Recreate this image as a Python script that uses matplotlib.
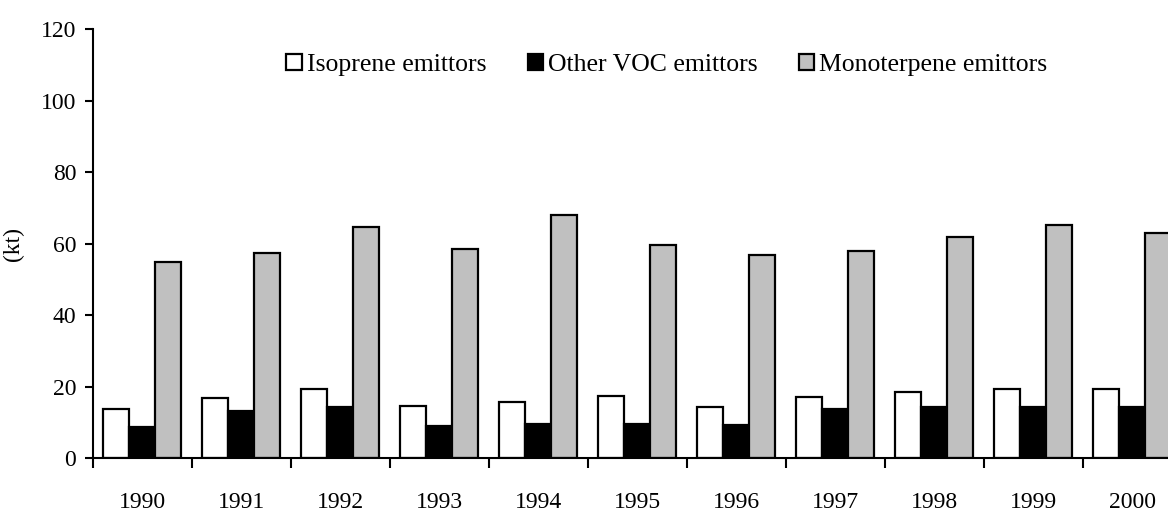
import numpy as np
import matplotlib
matplotlib.use("Agg")
import matplotlib.pyplot as plt

years = ["1990", "1991", "1992", "1993", "1994", "1995", "1996", "1997", "1998", "1999", "2000"]
isoprene = [13.7, 16.9, 19.3, 14.6, 15.9, 17.5, 14.3, 17.3, 18.6, 19.3, 19.3]
other_voc = [8.9, 13.2, 14.3, 9.2, 9.5, 9.5, 9.3, 13.7, 14.3, 14.4, 14.3]
monoterpene = [55.0, 57.4, 64.7, 58.5, 68.1, 59.7, 56.9, 57.9, 61.9, 65.1, 63.0]
series_names = ["Isoprene emittors", "Other VOC emittors", "Monoterpene emittors"]

plt.rcParams['font.family'] = ['Liberation Serif', 'DejaVu Serif']
fs = 17

fig = plt.figure(figsize=(11.68, 5.12), dpi=100)
# axis runs past the right edge of the picture, as in the original
ax = fig.add_axes([0.0796, 0.1045, 0.932, 0.839])

x = np.arange(len(years))
w = 0.263
ax.bar(x - w, isoprene, w, color="white", edgecolor="black", linewidth=1.6, label=series_names[0])
ax.bar(x, other_voc, w, color="black", edgecolor="black", linewidth=1.6, label=series_names[1])
ax.bar(x + w, monoterpene, w, color="#c0c0c0", edgecolor="black", linewidth=1.6, label=series_names[2])

ax.set_xlim(-0.5, len(years) - 0.5)
ax.set_ylim(0, 120)
ax.set_yticks(range(0, 121, 20))

ax.set_xticks(np.arange(len(years) + 1) - 0.5)
ax.set_xticklabels([])
ax.set_xticks(x, minor=True)
ax.set_xticklabels(years, minor=True)
ax.tick_params(axis="x", which="major", direction="out", length=7, width=1.5)
ax.tick_params(axis="x", which="minor", length=0, pad=24, labelsize=fs)
ax.tick_params(axis="y", direction="out", length=6, width=1.5, pad=6, labelsize=fs)

for s in ["top", "right"]:
    ax.spines[s].set_visible(False)
for s in ["left", "bottom"]:
    ax.spines[s].set_linewidth(1.5)

ax.set_ylabel("(kt)", fontsize=fs, labelpad=12)

fig.legend(loc="center", bbox_to_anchor=(0.571, 0.873), ncol=3, frameon=False,
           fontsize=18.5, handlelength=0.6, handleheight=0.6, handletextpad=0.2,
           columnspacing=1.6)

fig.savefig("out.png", dpi=100)
